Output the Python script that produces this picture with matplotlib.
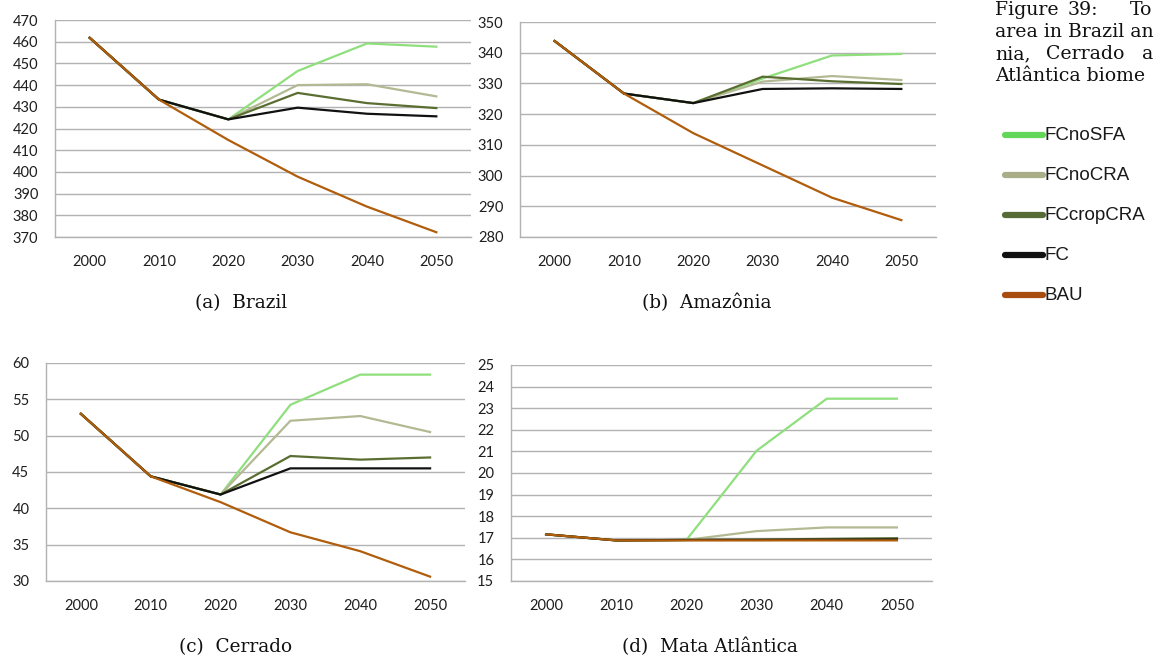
import matplotlib
matplotlib.use("Agg")
import matplotlib.pyplot as plt
from matplotlib.lines import Line2D

years = ["2000", "2010", "2020", "2030", "2040", "2050"]
series_names = ["FCnoSFA", "FCnoCRA", "FCcropCRA", "FC", "BAU"]
line_colors = {"FCnoSFA": "#8fdf7d", "FCnoCRA": "#b3b993", "FCcropCRA": "#5b6e32",
               "FC": "#111111", "BAU": "#b05d0c"}
legend_colors = {"FCnoSFA": "#62d659", "FCnoCRA": "#a9ae89", "FCcropCRA": "#566b35",
                 "FC": "#101010", "BAU": "#a94c10"}

brazil = {
    "FCnoSFA":   [461.8, 433.3, 424.2, 446.5, 459.2, 457.7],
    "FCnoCRA":   [461.8, 433.3, 424.2, 440.0, 440.4, 434.8],
    "FCcropCRA": [461.8, 433.3, 424.2, 436.4, 431.7, 429.4],
    "FC":        [461.8, 433.3, 424.2, 429.6, 426.8, 425.6],
    "BAU":       [461.8, 433.3, 414.7, 397.8, 384.0, 372.2],
}
amazonia = {
    "FCnoSFA":   [343.8, 326.7, 323.6, 331.6, 339.1, 339.6],
    "FCnoCRA":   [343.8, 326.7, 323.6, 330.6, 332.4, 331.1],
    "FCcropCRA": [343.8, 326.7, 323.6, 332.2, 330.7, 329.8],
    "FC":        [343.8, 326.7, 323.6, 328.2, 328.4, 328.2],
    "BAU":       [343.8, 326.7, 313.8, 303.3, 292.8, 285.5],
}
cerrado = {
    "FCnoSFA":   [53.0, 44.4, 41.9, 54.25, 58.4, 58.4],
    "FCnoCRA":   [53.0, 44.4, 41.9, 52.05, 52.7, 50.5],
    "FCcropCRA": [53.0, 44.4, 41.9, 47.2, 46.7, 47.0],
    "FC":        [53.0, 44.4, 41.9, 45.5, 45.5, 45.5],
    "BAU":       [53.0, 44.4, 40.85, 36.7, 34.1, 30.6],
}
mata = {
    "FCnoSFA":   [17.16, 16.88, 16.9, 21.03, 23.44, 23.44],
    "FCnoCRA":   [17.16, 16.88, 16.9, 17.31, 17.48, 17.48],
    "FCcropCRA": [17.16, 16.88, 16.9, 16.92, 16.95, 16.98],
    "FC":        [17.16, 16.88, 16.9, 16.9, 16.91, 16.92],
    "BAU":       [17.16, 16.88, 16.88, 16.88, 16.88, 16.88],
}

panels = [
    (brazil, (370, 470), 10, (55, 20, 471, 237), "(a)  Brazil", (241, 303)),
    (amazonia, (280, 350), 10, (520, 22, 936, 237), "(b)  Amazônia", (707, 303)),
    (cerrado, (30, 60), 5, (46, 363, 465, 581), "(c)  Cerrado", (236, 647)),
    (mata, (15, 25), 1, (511, 365, 932, 581), "(d)  Mata Atlântica", (710, 647)),
]

W, H = 1156, 660
fig = plt.figure(figsize=(W / 100, H / 100), dpi=100)
fig.patch.set_facecolor("white")

grid_c = "#b2b2b2"
tick_font = "Lato"

for data, ylim, step, (l, t, r, b), cap, (cx, cy) in panels:
    ax = fig.add_axes([l / W, 1 - b / H, (r - l) / W, (b - t) / H])
    x = list(range(len(years)))
    for name in series_names:
        ax.plot(x, data[name], color=line_colors[name], lw=1.6, solid_joinstyle="miter", zorder=3)
    ax.set_xlim(-0.5, len(years) - 0.5)
    ax.set_ylim(*ylim)
    ticks = list(range(ylim[0], ylim[1] + 1, step))
    ax.set_yticks(ticks)
    ax.set_yticklabels([str(v) for v in ticks], fontfamily=tick_font, fontsize=10.5, color="#1e1e1e")
    ax.set_xticks(x)
    ax.set_xticklabels(years, fontfamily=tick_font, fontsize=10.5, color="#1e1e1e")
    ax.tick_params(axis="both", length=0)
    ax.tick_params(axis="y", pad=12)
    ax.tick_params(axis="x", pad=13)
    ax.yaxis.grid(True, color=grid_c, lw=1.0, zorder=0)
    ax.set_axisbelow(True)
    for s in ["top", "right"]:
        ax.spines[s].set_visible(False)
    for s in ["left", "bottom"]:
        ax.spines[s].set_color(grid_c)
        ax.spines[s].set_linewidth(1.0)
    ax.set_facecolor("none")
    fig.text(cx / W, 1 - cy / H, cap, ha="center", va="center",
             fontfamily="DejaVu Serif", fontsize=13.3, color="#111111")

# caption text at right (cut at the page edge in the reference)
serif = "DejaVu Serif"
cap_lines = [
    [(995, "Figure"), (1068, "39:"), (1130, "To")],
    [(995, "area in Brazil an")],
    [(995, "nia,"), (1046, "Cerrado"), (1142, "a")],
    [(995, "Atlântica biome")],
]
baselines = [15, 37, 59, 81]
for words, yb in zip(cap_lines, baselines):
    for xw, w in words:
        fig.text(xw / W, 1 - yb / H, w, ha="left", va="baseline",
                 fontfamily=serif, fontsize=13.6, color="#111111")

# legend block
leg_y = [135, 175, 215, 255, 295]
lax = fig.add_axes([0, 0, 1, 1])
lax.set_xlim(0, W)
lax.set_ylim(H, 0)
lax.axis("off")
for name, yy in zip(series_names, leg_y):
    lax.add_line(Line2D([1005, 1043], [yy, yy], color=legend_colors[name], lw=4.5,
                        solid_capstyle="round"))
    lax.text(1045, yy, name, ha="left", va="center", fontfamily="Liberation Sans",
             fontsize=13.5, color="#1a1a1a")

fig.savefig("out.png", dpi=100)
